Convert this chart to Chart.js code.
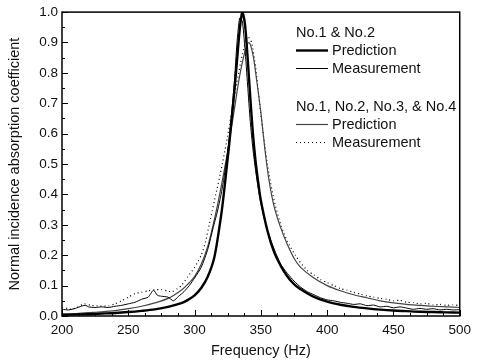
<!DOCTYPE html>
<html>
<head>
<meta charset="utf-8">
<script src="https://cdn.jsdelivr.net/npm/chart.js@4.4.1/dist/chart.umd.min.js"></script>
<style>
  html, body { margin: 0; padding: 0; background: #fff; }
  #wrap { width: 477px; height: 360px; }
</style>
</head>
<body>
<div id="wrap"><canvas id="chart" width="477" height="360"></canvas></div>
<script>
// No.1 & No.2 prediction (thick line)
var p12Freq = [200, 210, 220, 230, 240, 250, 260, 270, 280, 290, 295, 300, 305, 310, 315, 320, 322, 324, 326, 328, 330, 332, 334, 336, 338, 340, 342, 344, 346, 348, 350, 355, 360, 365, 370, 375, 380, 390, 400, 410, 420, 430, 440, 450, 460, 470, 480, 490, 500];
var p12Abs = [0.004, 0.005, 0.006, 0.008, 0.010, 0.013, 0.017, 0.022, 0.030, 0.042, 0.053, 0.068, 0.092, 0.130, 0.195, 0.330, 0.400, 0.480, 0.560, 0.650, 0.740, 0.840, 0.940, 1.000, 0.960, 0.850, 0.720, 0.600, 0.510, 0.440, 0.380, 0.280, 0.210, 0.165, 0.130, 0.105, 0.088, 0.063, 0.047, 0.037, 0.030, 0.025, 0.021, 0.018, 0.016, 0.014, 0.013, 0.012, 0.011];

// No.1 & No.2 measurement (thin line)
var m12Freq = [200, 205, 210, 215, 218, 220, 225, 230, 235, 240, 245, 250, 255, 260, 265, 269, 272, 275, 280, 284, 288, 292, 296, 300, 305, 310, 314, 317, 320, 322, 324, 326, 328, 330, 332, 334, 336, 338, 340, 342, 344, 346, 348, 350, 355, 360, 365, 370, 375, 380, 385, 390, 395, 400, 405, 410, 415, 420, 425, 430, 435, 440, 445, 450, 455, 460, 465, 470, 475, 480, 485, 490, 495, 500];
var m12Abs = [0.022, 0.020, 0.025, 0.033, 0.035, 0.030, 0.028, 0.030, 0.028, 0.032, 0.035, 0.040, 0.045, 0.055, 0.062, 0.085, 0.068, 0.065, 0.062, 0.050, 0.065, 0.080, 0.100, 0.125, 0.160, 0.220, 0.290, 0.340, 0.400, 0.450, 0.510, 0.580, 0.670, 0.770, 0.900, 0.980, 0.970, 0.880, 0.760, 0.640, 0.550, 0.480, 0.420, 0.370, 0.280, 0.220, 0.170, 0.140, 0.115, 0.095, 0.080, 0.070, 0.060, 0.053, 0.050, 0.045, 0.042, 0.038, 0.040, 0.034, 0.036, 0.030, 0.032, 0.027, 0.030, 0.026, 0.022, 0.025, 0.022, 0.024, 0.020, 0.022, 0.020, 0.021];

// No.1 - No.4 prediction (thin grey line)
var p14Freq = [200, 210, 220, 230, 240, 250, 260, 270, 280, 290, 295, 300, 305, 310, 314, 318, 322, 326, 330, 334, 338, 341, 344, 347, 350, 353, 356, 360, 365, 370, 375, 380, 390, 400, 410, 420, 430, 440, 450, 460, 470, 480, 490, 500];
var p14Abs = [0.006, 0.008, 0.011, 0.014, 0.018, 0.024, 0.032, 0.043, 0.058, 0.085, 0.105, 0.130, 0.170, 0.230, 0.300, 0.380, 0.470, 0.570, 0.680, 0.790, 0.870, 0.900, 0.860, 0.770, 0.670, 0.550, 0.450, 0.360, 0.290, 0.235, 0.190, 0.160, 0.125, 0.100, 0.083, 0.070, 0.060, 0.050, 0.043, 0.038, 0.035, 0.032, 0.030, 0.028];

// No.1 - No.4 measurement (dotted line)
var m14Freq = [200, 205, 207, 212, 217, 222, 228, 235, 240, 245, 250, 255, 260, 265, 270, 275, 280, 283, 287, 290, 295, 300, 302, 305, 308, 312, 316, 320, 324, 328, 332, 336, 340, 343, 346, 349, 352, 356, 360, 365, 370, 376, 380, 385, 390, 395, 400, 405, 410, 415, 420, 425, 430, 435, 440, 445, 450, 455, 460, 465, 470, 475, 480, 485, 490, 495, 500];
var m14Abs = [0.028, 0.024, 0.022, 0.030, 0.040, 0.035, 0.033, 0.033, 0.040, 0.050, 0.062, 0.074, 0.078, 0.083, 0.086, 0.087, 0.082, 0.080, 0.090, 0.100, 0.130, 0.160, 0.175, 0.200, 0.240, 0.320, 0.400, 0.480, 0.570, 0.670, 0.770, 0.860, 0.920, 0.900, 0.820, 0.700, 0.590, 0.470, 0.380, 0.300, 0.245, 0.200, 0.175, 0.150, 0.135, 0.120, 0.110, 0.100, 0.090, 0.085, 0.078, 0.072, 0.066, 0.062, 0.058, 0.055, 0.050, 0.052, 0.045, 0.044, 0.040, 0.042, 0.036, 0.038, 0.035, 0.037, 0.034];

var xTicks = [200, 250, 300, 350, 400, 450, 500];
var yTicks = [0.0, 0.1, 0.2, 0.3, 0.4, 0.5, 0.6, 0.7, 0.8, 0.9, 1.0];

function pts(xs, ys) {
    return xs.map(function (x, i) { return { x: x, y: ys[i] }; });
}

var FONT = "'Liberation Sans', Arial, Helvetica, sans-serif";

// ticks inside the frame + the full box
var frameTicks = {
    id: 'frameTicks',
    afterDatasetsDraw: function (chart) {
        var ctx = chart.ctx, a = chart.chartArea, x = chart.scales.x, y = chart.scales.y;
        ctx.save();
        ctx.strokeStyle = '#000';
        ctx.lineWidth = 1;
        ctx.beginPath();
        for (var f = 200; f <= 500; f += 12.5) {
            var px = Math.round(x.getPixelForValue(f)) + 0.5;
            var len = (f % 50 === 0) ? 6 : 3;
            ctx.moveTo(px, a.bottom);
            ctx.lineTo(px, a.bottom - len);
        }
        for (var k = 0; k <= 20; k++) {
            var py = Math.round(y.getPixelForValue(k * 0.05)) + 0.5;
            var l = (k % 2 === 0) ? 6 : 3;
            ctx.moveTo(a.left, py);
            ctx.lineTo(a.left + l, py);
        }
        ctx.stroke();
        ctx.lineWidth = 1.5;
        ctx.strokeRect(a.left, a.top, a.right - a.left, a.bottom - a.top);
        ctx.restore();
    }
};

// legend drawn as two groups with headings
var groupLegend = {
    id: 'groupLegend',
    afterDraw: function (chart) {
        var ctx = chart.ctx, ds = chart.data.datasets;
        var x0 = 296, x1 = 328, tx = 332;
        var rows = [
            { head: 'No.1 & No.2', y: 37 },
            { ds: 0, label: 'Prediction', y: 50 },
            { ds: 1, label: 'Measurement', y: 68 },
            { head: 'No.1, No.2, No.3, & No.4', y: 111 },
            { ds: 2, label: 'Prediction', y: 124 },
            { ds: 3, label: 'Measurement', y: 142 }
        ];
        ctx.save();
        ctx.font = '14.5px ' + FONT;
        ctx.fillStyle = '#111';
        rows.forEach(function (r) {
            if (r.head) {
                ctx.textBaseline = 'alphabetic';
                ctx.fillText(r.head, x0, r.y);
                return;
            }
            var d = ds[r.ds];
            ctx.beginPath();
            ctx.strokeStyle = d.borderColor;
            ctx.lineWidth = d.borderWidth;
            ctx.setLineDash(d.borderDash || []);
            ctx.moveTo(x0, r.y + 0.5);
            ctx.lineTo(x1, r.y + 0.5);
            ctx.stroke();
            ctx.setLineDash([]);
            ctx.textBaseline = 'middle';
            ctx.fillText(r.label, tx, r.y + 1);
        });
        ctx.restore();
    }
};

new Chart(document.getElementById('chart'), {
    type: 'line',
    data: {
        datasets: [
            {
                label: 'No.1 & No.2 Prediction',
                data: pts(p12Freq, p12Abs),
                borderColor: '#000',
                borderWidth: 2.4,
                pointRadius: 0,
                tension: 0.3
            }, {
                label: 'No.1 & No.2 Measurement',
                data: pts(m12Freq, m12Abs),
                borderColor: '#000',
                borderWidth: 1,
                pointRadius: 0,
                tension: 0.2
            }, {
                label: 'No.1, No.2, No.3, & No.4 Prediction',
                data: pts(p14Freq, p14Abs),
                borderColor: '#444',
                borderWidth: 1.2,
                pointRadius: 0,
                tension: 0.3
            }, {
                label: 'No.1, No.2, No.3, & No.4 Measurement',
                data: pts(m14Freq, m14Abs),
                borderColor: '#000',
                borderWidth: 1.2,
                borderDash: [1, 3],
                pointRadius: 0,
                tension: 0.2
            }
        ]
    },
    options: {
        responsive: false,
        animation: false,
        layout: { padding: { top: 12, right: 10, left: 0, bottom: 0 } },
        plugins: { legend: { display: false }, tooltip: { enabled: false } },
        scales: {
            x: {
                type: 'linear',
                min: 200,
                max: 500,
                afterBuildTicks: function (s) { s.ticks = xTicks.map(function (v) { return { value: v }; }); },
                afterFit: function (s) { s.height = 44; },
                grid: { display: false, drawTicks: false },
                border: { display: false },
                ticks: { color: '#111', padding: 6, maxRotation: 0, font: { family: FONT, size: 13.5 } },
                title: { display: true, text: 'Frequency (Hz)', color: '#111', padding: { top: 0, bottom: 0 }, font: { family: FONT, size: 14.5 } }
            },
            y: {
                min: 0,
                max: 1,
                afterBuildTicks: function (s) { s.ticks = yTicks.map(function (v) { return { value: v }; }); },
                afterFit: function (s) { s.width = 62; },
                grid: { display: false, drawTicks: false },
                border: { display: false },
                ticks: { color: '#111', padding: 4, font: { family: FONT, size: 13.5 }, callback: function (v) { return v.toFixed(1); } },
                title: { display: true, text: 'Normal incidence absorption coefficient', color: '#111', padding: { top: 6, bottom: 0 }, font: { family: FONT, size: 14.5 } }
            }
        }
    },
    plugins: [frameTicks, groupLegend]
});
</script>
</body>
</html>
